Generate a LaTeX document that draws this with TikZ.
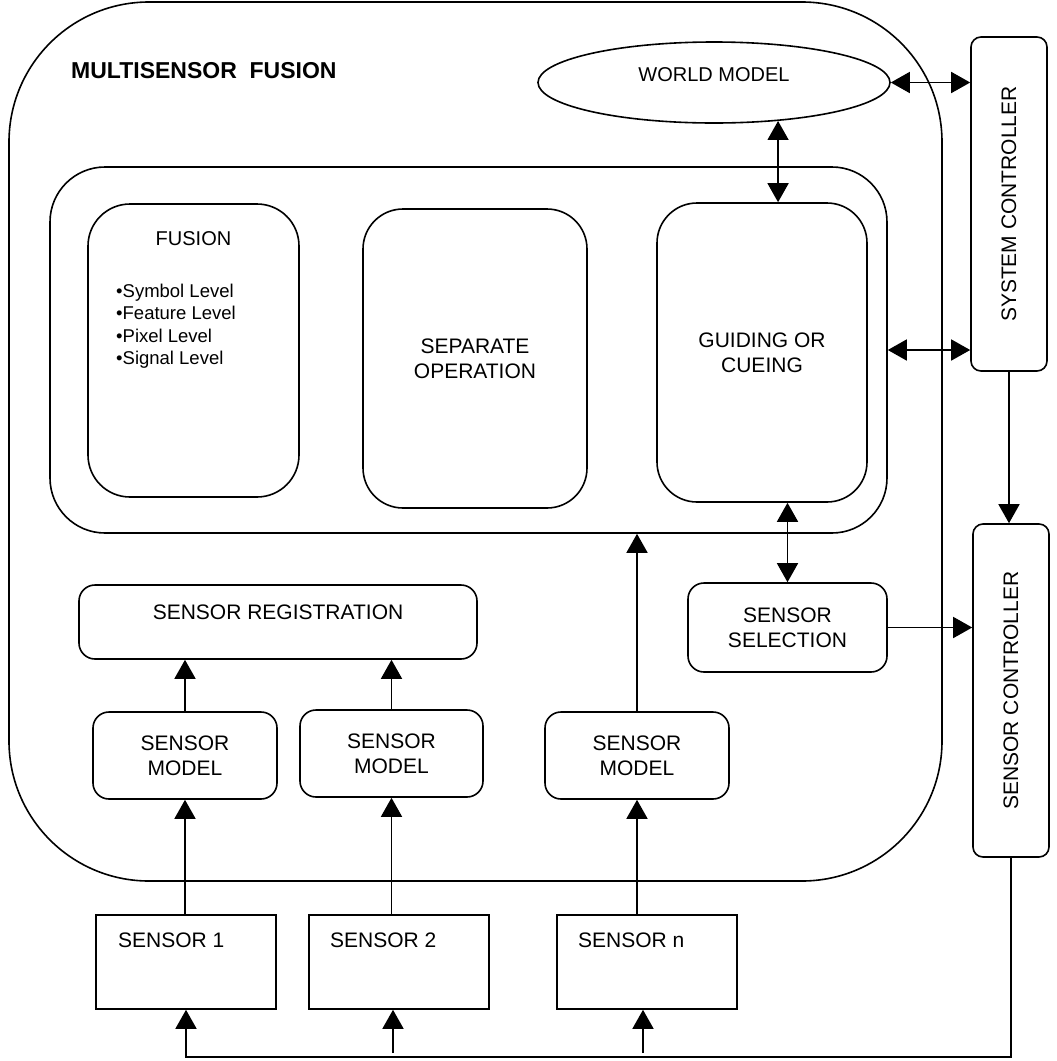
\documentclass[tikz,border=0pt]{standalone}
\usepackage{fontspec}
\setmainfont{Liberation Sans}
\usetikzlibrary{arrows.meta,shapes.geometric}
\begin{document}
\begin{tikzpicture}[x=1pt,y=-1pt,
  lw/.style={line width=1.6pt},
  bx/.style 2 args={draw, line width=1.6pt, rectangle, inner sep=0pt, minimum width=#1pt, minimum height=#2pt, align=center, font=\fontsize{21}{25}\selectfont},
  lbl/.style={font=\fontsize{21}{25}\selectfont, align=center, inner sep=0pt},
  arr/.style={line width=1.6pt, -{Triangle[length=19pt,width=21pt]}},
  dbl/.style={line width=1.6pt, {Triangle[length=19pt,width=21pt]}-{Triangle[length=19pt,width=21pt]}}
]
\useasboundingbox (0,0) rectangle (1057,1061);

% outer multisensor fusion block
\node[bx={933}{879}, rounded corners=140pt] (outer) at (475.5,441.5) {};
\node[font=\fontsize{23}{27}\selectfont\bfseries, anchor=west, inner sep=0pt] (title) at (71,71) {MULTISENSOR\ \ FUSION};

% world model
\node[ellipse, draw, lw, minimum width=352pt, minimum height=81pt, inner sep=0pt] (wm) at (714,82.5) {};
\node[lbl, font=\fontsize{20}{25}\selectfont] (wmt) at (714,75) {WORLD MODEL};

% controllers
\node[bx={76}{334}, rounded corners=10pt] (sc) at (1009,204) {};
\node[lbl, rotate=90] (sct) at (sc.center) {SYSTEM CONTROLLER};
\node[bx={76}{333}, rounded corners=10pt] (senc) at (1011,690.5) {};
\node[lbl, rotate=90] (senct) at (senc.center) {SENSOR CONTROLLER};

% inner block
\node[bx={837}{366}, rounded corners=55pt] (inner) at (468.5,350) {};
\node[bx={211}{293}, rounded corners=42pt] (fusion) at (193.5,350.5) {};
\node[lbl, font=\fontsize{20}{25}\selectfont] (fust) at (193.5,239) {FUSION};
\node[font=\fontsize{18.5}{22.3}\selectfont, anchor=north west, align=left, inner sep=0pt] (fusl) at (116,284) {•Symbol Level\\•Feature Level\\•Pixel Level\\•Signal Level};
\node[bx={224}{299}, rounded corners=40pt] (sep) at (475,358.5) {SEPARATE\\OPERATION};
\node[bx={210}{299}, rounded corners=40pt] (guide) at (762,352.5) {GUIDING OR\\CUEING};

% sensor selection and registration
\node[bx={199}{89}, rounded corners=16pt] (sel) at (787.5,627.5) {SENSOR\\SELECTION};
\node[bx={398}{74}, rounded corners=16pt] (reg) at (278,622) {};
\node[lbl] (regt) at (278,612) {SENSOR REGISTRATION};

% sensor models
\node[bx={184}{87}, rounded corners=16pt] (sm1) at (185,755.5) {SENSOR\\MODEL};
\node[bx={183}{87}, rounded corners=16pt] (sm2) at (391.5,753.5) {SENSOR\\MODEL};
\node[bx={184}{87}, rounded corners=16pt] (sm3) at (637,755.5) {SENSOR\\MODEL};

% sensors
\node[bx={180}{94}] (s1) at (186,962) {};
\node[bx={180}{94}] (s2) at (399,962) {};
\node[bx={180}{94}] (sn) at (647,962) {};
\node[lbl, anchor=west] (s1t) at (118,940) {SENSOR 1};
\node[lbl, anchor=west] (s2t) at (330,940) {SENSOR 2};
\node[lbl, anchor=west] (snt) at (578,940) {SENSOR n};

% connectors
\draw[dbl] (wm.east) -- (wm.east -| sc.west);
\draw[dbl] (wm.-31.4) -- (wm.-31.4 |- guide.north);
\draw[dbl] (inner.east) -- (inner.east -| sc.west);
\draw[arr] (sc.south) -- (sc.south |- senc.north);
\draw[dbl] (sel.north |- guide.south) -- (sel.north);
\draw[arr] (sel.east) -- (sel.east -| senc.west);
\draw[arr] (sm3.north) -- (sm3.north |- inner.south);
\draw[arr] (sm1.north) -- (sm1.north |- reg.south);
\draw[arr] (sm2.north) -- (sm2.north |- reg.south);
\draw[arr] (sm1.south |- s1.north) -- (sm1.south);
\draw[arr] (sm2.south |- s2.north) -- (sm2.south);
\draw[arr] (sm3.south |- sn.north) -- (sm3.south);

% feedback from sensor controller to sensors
\coordinate (fbY) at (0,1057);
\coordinate (f2) at (393,1053);
\coordinate (f3) at (643,1053);
\draw[arr] (senc.south) -- (senc.south |- fbY) -- (s1.south |- fbY) -- (s1.south);
\draw[arr] (f2) -- (f2 |- s2.south);
\draw[arr] (f3) -- (f3 |- sn.south);
\end{tikzpicture}
\end{document}
